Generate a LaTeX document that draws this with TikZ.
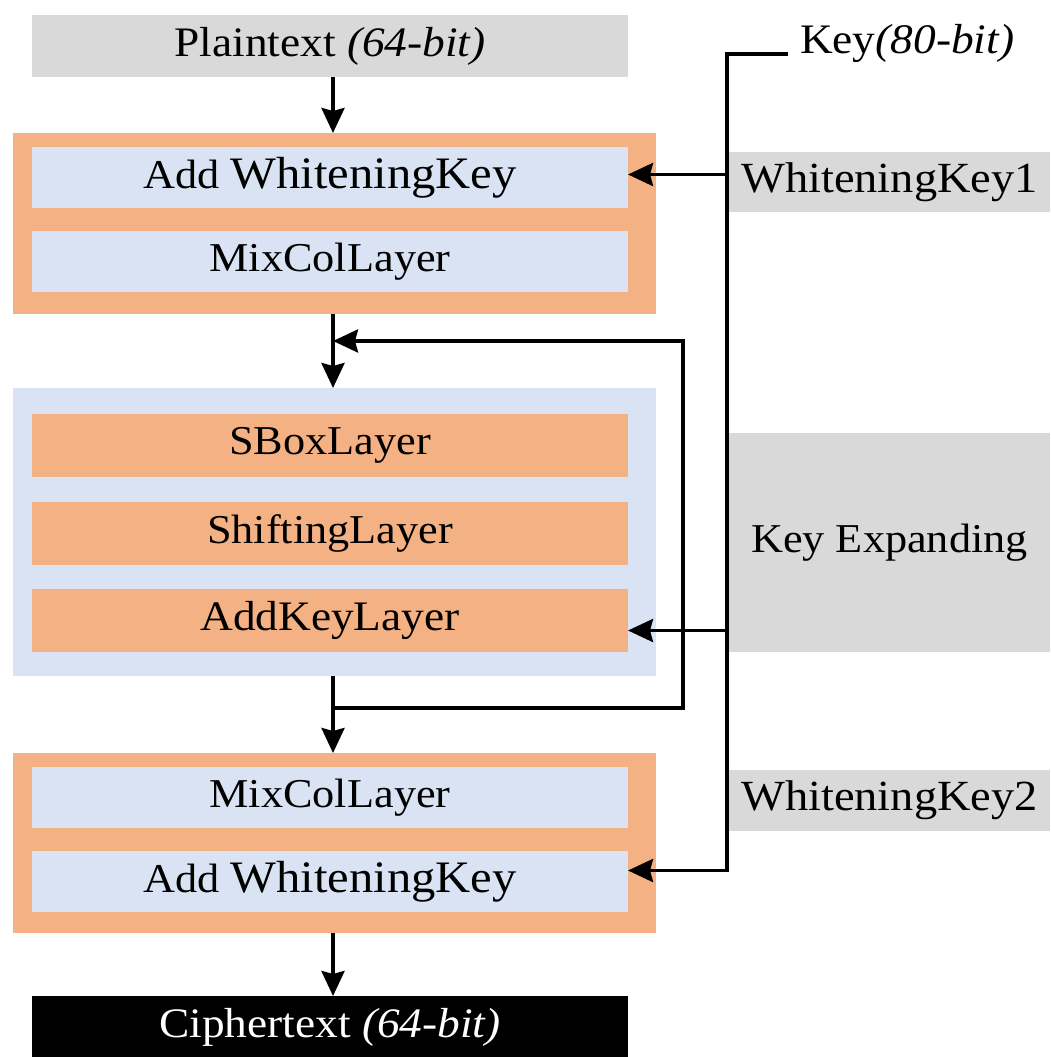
\documentclass[tikz,border=0pt]{standalone}
\usepackage{fontspec}
\setmainfont{Liberation Serif}[FakeStretch=1.08]
\usetikzlibrary{arrows.meta,calc}
\definecolor{grayfill}{HTML}{D9D9D9}
\definecolor{orangefill}{HTML}{F4B183}
\definecolor{bluefill}{HTML}{DAE3F3}
\newcommand{\addwk}{{\fontsize{41}{48}\selectfont Add} {\fontsize{45}{48}\selectfont WhiteningKey}}
\begin{document}
\begin{tikzpicture}[x=1pt,y=-1pt,
  lbl/.style={rectangle, inner sep=0pt, outer sep=0pt, font=\fontsize{41}{48}\selectfont},
  layer/.style={lbl, minimum width=596pt, minimum height=62pt},
  bluelayer/.style={layer, fill=bluefill},
  orangelayer/.style={layer, fill=orangefill},
  frame/.style={rectangle, inner sep=0pt, outer sep=0pt, minimum width=643pt},
  sidebox/.style={lbl, fill=grayfill, minimum width=321pt, font=\fontsize{43}{48}\selectfont},
  wire/.style={line width=3.7pt, line join=miter},
  arr/.style={wire, -{Stealth[length=25pt,width=23pt,inset=3pt]}}]
\useasboundingbox (0,0) rectangle (1050,1057);
\fill[white] (0,0) rectangle (1050,1057);

% round frames
\node[frame, fill=orangefill, minimum height=181pt] (outer1) at (334.5,223.5) {};
\node[frame, fill=bluefill, minimum height=288pt] (outer2) at (334.5,532) {};
\node[frame, fill=orangefill, minimum height=180pt] (outer3) at (334.5,843) {};

% data blocks
\node[layer, fill=grayfill, font=\fontsize{42}{48}\selectfont] (plain) at (330,46) {Plaintext \textit{(64-bit)}};
\node[bluelayer, minimum height=61pt] (awk1) at (330,177.5) {\addwk};
\node[bluelayer, minimum height=61pt] (mix1) at (330,261.5) {MixColLayer};
\node[orangelayer, minimum height=63pt] (sbox) at (330,445.5) {SBoxLayer};
\node[orangelayer, minimum height=63pt] (shift) at (330,533.5) {ShiftingLayer};
\node[orangelayer, minimum height=63pt, font=\fontsize{42}{48}\selectfont] (addkey) at (330,620.5) {AddKeyLayer};
\node[bluelayer, minimum height=61pt] (mix2) at (330,797.5) {MixColLayer};
\node[bluelayer, minimum height=61pt] (awk2) at (330,881.5) {\addwk};
\node[layer, fill=black, text=white, font=\fontsize{42}{48}\selectfont] (cipher) at (330,1027) {Ciphertext \textit{(64-bit)}};

% key schedule side
\node[sidebox, minimum height=60pt] (wk1) at (889.5,182) {WhiteningKey1};
\node[sidebox, minimum height=219pt, font=\fontsize{41}{48}\selectfont] (keyexp) at (889.5,542.5) {Key Expanding};
\node[sidebox, minimum height=61pt] (wk2) at (889.5,800.5) {WhiteningKey2};
\node[lbl, anchor=base west, font=\fontsize{42}{48}\selectfont] (keylbl) at (800,54) {Key\textit{(80-bit)}};

% helper coordinates
\coordinate (spine) at (333,0);
\coordinate (keybus) at (727,0);
\coordinate (loopx) at (683,0);
\coordinate (fbout) at (333,708);
\coordinate (fbin) at (333,341);
\coordinate (k1in) at ([yshift=3pt]awk1.east);
\coordinate (k3in) at ([yshift=-10pt]addkey.east);
\coordinate (k2in) at ([yshift=11pt]awk2.east);

% data path
\draw[arr] (plain.south -| spine) -- (outer1.north -| spine);
\draw[arr] (outer1.south -| spine) -- (outer2.north -| spine);
\draw[arr] (outer2.south -| spine) -- (outer3.north -| spine);
\draw[arr] (outer3.south -| spine) -- (cipher.north -| spine);

% round loop
\draw[arr] (fbout) -| (loopx |- fbin) -- (fbin);

% key path
\draw[arr] ([xshift=-12pt]keylbl.base west) -| (keybus |- k2in) -- (k2in);
\draw[arr] (keybus |- k1in) -- (k1in);
\draw[arr] (keybus |- k3in) -- (k3in);
\end{tikzpicture}
\end{document}
